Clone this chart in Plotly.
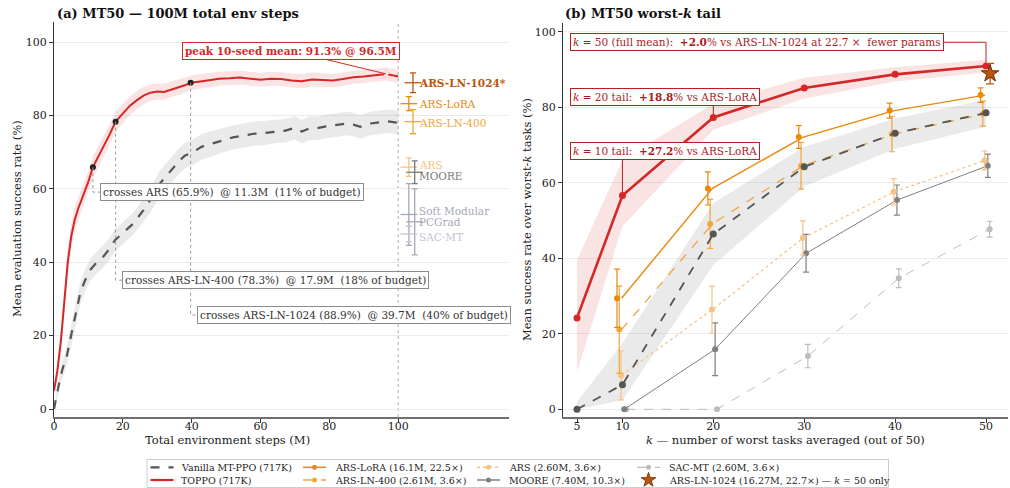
import plotly.graph_objects as go

FIG_W, FIG_H = 1010, 488
FONT = "DejaVu Serif"

# ---------------- (a) MT50 learning curves (x in M env steps, y in %) ----------------
toppo_steps = [0, 1, 2, 3, 4, 5, 6, 7, 8, 9, 10, 11.3, 12.5, 14, 16, 17.9,
               20, 22, 24, 26, 28, 30, 32, 34, 36, 38, 39.7, 42, 45, 48, 51, 54,
               57, 60, 63, 66, 69, 72, 75, 78, 81, 84, 87, 90, 93, 96.5, 100]
toppo_mean = [5.0, 10.5, 18.5, 29.0, 40.0, 47.0, 51.5, 54.5, 57.0, 59.5, 62.0, 65.9,
              68.0, 71.0, 74.5, 78.3, 80.6, 82.6, 84.1, 85.4, 86.2, 86.5, 86.4, 87.1,
              87.6, 88.2, 88.9, 89.2, 89.6, 90.0, 90.1, 90.3, 90.0, 89.7, 90.0, 89.9,
              89.5, 89.3, 89.8, 89.6, 89.5, 89.9, 90.4, 90.6, 90.9, 91.3, 90.6]
toppo_sd = [1.5, 2.5, 3.0, 3.5, 3.5, 3.5, 3.5, 3.2, 3.0, 3.0, 3.0, 3.0, 3.0, 3.0,
            2.9, 2.8, 2.7, 2.6, 2.5, 2.4, 2.3, 2.2, 2.2, 2.1, 2.1, 2.0, 2.0, 2.0,
            2.0, 1.9, 1.9, 1.9, 1.9, 1.9, 1.9, 1.9, 1.9, 1.9, 1.9, 1.8, 1.8, 1.8,
            1.8, 1.8, 1.8, 1.8, 1.8]

vanilla_steps = [0, 1, 1.7, 2.5, 3.7, 5.1, 6.5, 7.6, 9, 10.5, 12, 14.3, 16, 17.7,
                 19.5, 21.1, 23, 26, 28, 30.8, 33, 35, 36.6, 38, 40.5, 43, 46, 49,
                 52, 55, 58, 61, 64, 67, 70, 72, 74, 76.4, 79, 82, 85, 87, 89, 92,
                 94.8, 97, 100]
vanilla_mean = [0.0, 5.0, 8.0, 11.0, 14.3, 20.6, 27.0, 31.5, 35.0, 37.9, 39.5, 41.5,
                43.5, 46.0, 47.5, 48.8, 50.5, 54.2, 57.0, 61.5, 64.0, 66.0, 67.8, 69.0,
                70.1, 71.5, 72.3, 73.3, 74.0, 74.5, 75.0, 75.2, 75.6, 75.8, 76.6, 75.6,
                76.4, 76.5, 77.0, 77.3, 77.8, 77.5, 76.9, 77.8, 78.2, 78.4, 78.0]
vanilla_sd = [0.5, 1.5, 2.0, 2.5, 2.5, 3.0, 3.0, 3.0, 3.0, 3.0, 3.0, 3.0, 3.0, 3.0,
              3.0, 3.0, 3.0, 3.2, 3.4, 3.5, 3.5, 3.5, 3.5, 3.5, 3.5, 3.5, 3.5, 3.4,
              3.3, 3.3, 3.3, 3.3, 3.2, 3.2, 3.2, 3.2, 3.2, 3.2, 3.2, 3.2, 3.2, 3.2,
              3.2, 3.2, 3.2, 3.2, 3.2]

# where TOPPO first reaches each baseline's final score
cross_names = ["ARS", "ARS-LN-400", "ARS-LN-1024"]
cross_steps = [11.3, 17.9, 39.7]
cross_levels = [65.9, 78.3, 88.9]
budget_m = 100

# ---------------- (b) worst-k tail means ----------------
k_all = [5, 10, 20, 30, 40, 50]
toppo_tail = [24.2, 56.6, 77.3, 85.1, 88.7, 90.9]
toppo_tail_lo = [9.9, 48.5, 74.0, 82.3, 86.8, 89.2]
toppo_tail_hi = [39.5, 66.0, 81.0, 87.8, 90.6, 92.6]
vanilla_tail = [0.0, 6.5, 46.4, 64.2, 73.1, 78.5]
vanilla_tail_lo = [0.0, 2.4, 38.2, 59.0, 69.0, 74.8]
vanilla_tail_hi = [2.0, 17.5, 54.6, 69.5, 77.0, 82.0]

k_base = [10, 20, 30, 40, 50]
lora_tail = [29.4, 58.5, 72.1, 79.1, 83.2]
lora_err = [7.7, 4.4, 3.0, 2.0, 1.9]
ln400_tail = [21.1, 49.1, 64.5, 72.9, 78.3]
ln400_err = [11.5, 6.5, 6.2, 4.7, 3.3]
ars_tail = [9.0, 26.4, 45.4, 57.6, 65.9]
ars_err = [6.5, 6.2, 4.5, 3.5, 2.5]
moore_tail = [0.0, 15.9, 41.3, 55.4, 64.5]
moore_err = [0.0, 7.0, 5.0, 4.0, 3.1]
sac_tail = [0.0, 0.0, 14.1, 34.7, 47.7]
sac_err = [0.0, 0.0, 3.1, 2.5, 2.1]
ln1024_k50 = 88.9
ln1024_err = 2.7
softmod_k50, softmod_err = 53.0, 8.4
pcgrad_k50, pcgrad_err = 51.0, 9.0

# parameter counts (millions)
params = {"TOPPO": 0.717, "ARS-LoRA": 16.1, "ARS-LN-400": 2.61, "ARS": 2.60,
          "MOORE": 7.40, "SAC-MT": 2.60, "ARS-LN-1024": 16.27}

# ---------------- styles ----------------
C_TOPPO = "#d62728"
C_VAN = "#555555"
C_LORA = "#e8890c"
C_LN400 = "#f2a53c"
C_ARS = "#f7c283"
C_MOORE = "#808080"
C_SAC = "#bdbdbd"
C_LN1024 = "#b8560b"
C_SOFT = "#a5a9b5"
C_DARKRED = "#a81c1c"
TXT = "#222222"


def ratio(name):
    return params[name] / params["TOPPO"]


def px_x(p):
    return p / FIG_W


def px_y(p):
    return 1 - p / FIG_H


fig = go.Figure()
A = dict(xaxis="x", yaxis="y")
B = dict(xaxis="x2", yaxis="y2")
L = dict(xaxis="x3", yaxis="y3")
NOHOVER = dict(hoverinfo="skip", showlegend=False)


def band(xs, lo, hi, color, axes):
    fig.add_trace(go.Scatter(x=xs, y=lo, mode="lines", line=dict(width=0),
                             **axes, **NOHOVER))
    fig.add_trace(go.Scatter(x=xs, y=hi, mode="lines", line=dict(width=0),
                             fill="tonexty", fillcolor=color, **axes, **NOHOVER))


def paper_text(x, y, text, size=11.5, color=TXT, angle=0, xanchor="center"):
    fig.add_annotation(x=px_x(x), y=px_y(y), xref="paper", yref="paper",
                       xanchor=xanchor, yanchor="middle", textangle=angle,
                       showarrow=False, text=text,
                       font=dict(family=FONT, size=size, color=color))


# ---- panel (a) ----
band(vanilla_steps, [m - s for m, s in zip(vanilla_mean, vanilla_sd)],
     [m + s for m, s in zip(vanilla_mean, vanilla_sd)], "rgba(160,160,160,0.22)", A)
band(toppo_steps, [m - s for m, s in zip(toppo_mean, toppo_sd)],
     [m + s for m, s in zip(toppo_mean, toppo_sd)], "rgba(214,39,40,0.13)", A)
fig.add_trace(go.Scatter(x=vanilla_steps, y=vanilla_mean, mode="lines",
                         line=dict(color=C_VAN, width=2.2, dash="dash"), **A, **NOHOVER))
fig.add_trace(go.Scatter(x=toppo_steps, y=toppo_mean, mode="lines",
                         line=dict(color=C_TOPPO, width=2), **A, **NOHOVER))
fig.add_trace(go.Scatter(x=cross_steps, y=cross_levels, mode="markers",
                         marker=dict(color="#222222", size=6), **A, **NOHOVER))

peak_i = max(range(len(toppo_mean)), key=lambda i: toppo_mean[i])
peak_x, peak_y = toppo_steps[peak_i], toppo_mean[peak_i]
fig.add_trace(go.Scatter(x=[peak_x], y=[peak_y], mode="markers",
                         marker=dict(symbol="star", color="white", size=6,
                                     line=dict(color="#f4b6b6", width=0.5)),
                         **A, **NOHOVER))

# final scores of the baselines at the right edge of (a)
final_items = [
    ("ARS-LN-1024*", ln1024_k50, ln1024_err, C_LN1024, 104.3, 0.0, True),
    ("ARS-LoRA", lora_tail[-1], lora_err[-1], C_LORA, 103.1, 0.0, False),
    ("ARS-LN-400", ln400_tail[-1], ln400_err[-1], C_LN400, 104.3, -0.4, False),
    ("ARS", ars_tail[-1], ars_err[-1], C_ARS, 103.1, 0.6, False),
    ("MOORE", moore_tail[-1], moore_err[-1], "#7a7a7a", 104.8, -1.0, False),
    ("Soft Modular", softmod_k50, softmod_err, C_SOFT, 103.1, 1.0, False),
    ("PCGrad", pcgrad_k50, pcgrad_err, C_SOFT, 104.8, 0.0, False),
    ("SAC-MT", sac_tail[-1], sac_err[-1], "#c4c6cf", 103.1, -0.8, False),
]
for name, val, err, col, xpos, nudge, bold in final_items:
    fig.add_trace(go.Scatter(
        x=[xpos], y=[val], mode="markers",
        marker=dict(symbol="line-ew", size=12, line=dict(color=col, width=1.3)),
        error_y=dict(type="data", array=[err], color=col, thickness=1.3, width=3),
        **A, **NOHOVER))
    fig.add_annotation(x=105.6, y=val + nudge, xref="x", yref="y", xanchor="left",
                       yanchor="middle", showarrow=False,
                       text=f"<b>{name}</b>" if bold else name,
                       font=dict(family=FONT, size=10.5, color=col))

# ---- panel (b) ----
band(k_all, vanilla_tail_lo, vanilla_tail_hi, "rgba(160,160,160,0.22)", B)
band(k_all, toppo_tail_lo, toppo_tail_hi, "rgba(214,39,40,0.13)", B)

# (name, values, errors, colour, dash, width, line dx, marker dx)
tail_series = [
    ("SAC-MT", sac_tail, sac_err, C_SAC, "dash", 1.0, 0.4, 0.4),
    ("MOORE", moore_tail, moore_err, C_MOORE, "solid", 1.0, 0.2, 0.2),
    ("ARS", ars_tail, ars_err, C_ARS, "dot", 1.2, -0.1, -0.15),
    ("ARS-LN-400", ln400_tail, ln400_err, C_LN400, "dash", 1.3, -0.1, -0.35),
    ("ARS-LoRA", lora_tail, lora_err, C_LORA, "solid", 1.4, -0.1, -0.6),
]
for name, vals, errs, col, dash, w, ldx, mdx in tail_series:
    fig.add_trace(go.Scatter(x=[k + ldx for k in k_base], y=vals, mode="lines",
                             line=dict(color=col, width=w, dash=dash), **B, **NOHOVER))
    fig.add_trace(go.Scatter(
        x=[k + mdx for k in k_base], y=vals, mode="markers",
        marker=dict(color=col, size=6),
        error_y=dict(type="data", array=errs, color=col, thickness=1.2, width=3),
        **B, **NOHOVER))

fig.add_trace(go.Scatter(x=k_all, y=vanilla_tail, mode="lines+markers",
                         line=dict(color=C_VAN, width=1.8, dash="dash"),
                         marker=dict(color=C_VAN, size=7), **B, **NOHOVER))
fig.add_trace(go.Scatter(x=k_all, y=toppo_tail, mode="lines+markers",
                         line=dict(color=C_TOPPO, width=2.6),
                         marker=dict(color=C_TOPPO, size=7), **B, **NOHOVER))
fig.add_trace(go.Scatter(
    x=[50.45], y=[ln1024_k50], mode="markers",
    marker=dict(symbol="star", color=C_LN1024, size=13, line=dict(color="#6b2a00", width=1)),
    error_y=dict(type="data", array=[ln1024_err], color=C_LN1024, thickness=1.3, width=4),
    **B, **NOHOVER))

# ---- axes ----
tick_font = dict(family=FONT, size=11, color=TXT)
common = dict(ticks="outside", ticklen=4, tickwidth=1, tickcolor="#333333",
              tickfont=tick_font, zeroline=False, automargin=False, fixedrange=True)
fig.update_layout(
    xaxis=dict(domain=[px_x(54), px_x(509)], range=[0, 132.2], anchor="y",
               tickvals=[0, 20, 40, 60, 80, 100], showgrid=False, showline=True,
               linecolor="#707070", linewidth=1.8, ticklabelstandoff=-6, **common),
    yaxis=dict(domain=[px_y(417), px_y(22)], range=[-2.18, 105.45], anchor="x",
               tickvals=[0, 20, 40, 60, 80, 100], showgrid=True, gridcolor="#ebebeb",
               gridwidth=1, showline=True, linecolor="#333333", linewidth=1.3, **common),
    xaxis2=dict(domain=[px_x(563), px_x(1008)], range=[3.46, 52.42], anchor="y2",
                tickvals=[5, 10, 20, 30, 40, 50], showgrid=False, showline=True,
                linecolor="#707070", linewidth=1.8, ticklabelstandoff=-6, **common),
    yaxis2=dict(domain=[px_y(417), px_y(23)], range=[-2.04, 102.3], anchor="x2",
                tickvals=[0, 20, 40, 60, 80, 100], showgrid=True, gridcolor="#ebebeb",
                gridwidth=1, showline=True, linecolor="#333333", linewidth=1.3, **common),
    xaxis3=dict(domain=[0, 1], range=[0, FIG_W], anchor="y3", visible=False,
                fixedrange=True, automargin=False),
    yaxis3=dict(domain=[0, 31 / FIG_H], range=[FIG_H, FIG_H - 31], anchor="x3",
                visible=False, fixedrange=True, automargin=False),
)

# ---- shapes: budget line, connectors ----
fig.add_shape(type="line", xref="x", yref="paper", x0=budget_m, x1=budget_m,
              y0=px_y(417), y1=px_y(22), line=dict(color="#b0b0b0", width=1, dash="dot"),
              layer="below")

cross_boxes = [(13.4, 59.1), (19.75, 35.1), (41.5, 25.6)]
for (bx, by), name, step, lvl in zip(cross_boxes, cross_names, cross_steps, cross_levels):
    fig.add_shape(type="path", xref="x", yref="y",
                  path=f"M {step},{lvl} L {step},{by} L {bx + 2},{by}",
                  line=dict(color="#9a9a9a", width=1, dash="dot"))
    fig.add_annotation(
        x=bx, y=by, xref="x", yref="y", xanchor="left", yanchor="middle",
        showarrow=False,
        text=(f"crosses {name} ({lvl:.1f}%)\u00a0 @ {step:.1f}M\u00a0 "
              f"({step / budget_m * 100:.0f}% of budget)"),
        font=dict(family=FONT, size=10.5, color="#333333"),
        bgcolor="white", bordercolor="#8c8c8c", borderwidth=1, borderpad=2)

fig.add_annotation(
    x=peak_x, y=peak_y, xref="x", yref="y", ax=69, ay=97.5, axref="x", ayref="y",
    showarrow=True, arrowhead=0, arrowwidth=1, arrowcolor=C_TOPPO,
    text=f"<b>peak 10-seed mean: {peak_y:.1f}% @ {peak_x:.1f}M</b>",
    font=dict(family=FONT, size=10.5, color=C_TOPPO),
    bgcolor="white", bordercolor=C_TOPPO, borderwidth=1, borderpad=2)

gain50 = toppo_tail[-1] - ln1024_k50
gain20 = toppo_tail[2] - lora_tail[1]
gain10 = toppo_tail[1] - lora_tail[0]
tail_notes = [
    (97.2, f"<i>k</i> = 50 (full mean):\u00a0 <b>+{gain50:.1f}</b>% vs ARS-LN-1024 at "
           f"{ratio('ARS-LN-1024'):.1f} ×\u00a0 fewer params",
     f"M 40,97.2 L 50,97.2 L 50,{toppo_tail[-1] + 0.9}"),
    (82.6, f"<i>k</i> = 20 tail:\u00a0 <b>+{gain20:.1f}</b>% vs ARS-LoRA",
     f"M 20,82.6 L 20,{toppo_tail[2] + 0.9}"),
    (68.4, f"<i>k</i> = 10 tail:\u00a0 <b>+{gain10:.1f}</b>% vs ARS-LoRA",
     f"M 10,68.4 L 10,{toppo_tail[1] + 0.9}"),
]
for ty, text, path in tail_notes:
    fig.add_shape(type="path", xref="x2", yref="y2", path=path,
                  line=dict(color="#b22222", width=1))
    fig.add_annotation(x=4.23, y=ty, xref="x2", yref="y2", xanchor="left",
                       yanchor="middle", showarrow=False, text=text,
                       font=dict(family=FONT, size=10.5, color=C_DARKRED),
                       bgcolor="white", bordercolor="#b22222", borderwidth=1, borderpad=2)

# ---- titles and axis labels ----
paper_text(55, 14, "<b>(a) MT50 — 100M total env steps</b>", size=13,
           color="#111111", xanchor="left")
paper_text(563, 14, "<b>(b) MT50 worst-<i>k</i> tail</b>", size=13,
           color="#111111", xanchor="left")
paper_text(17, 219, "Mean evaluation success rate (%)", angle=-90)
paper_text(527, 220, "Mean success rate over worst-<i>k</i> tasks (%)", angle=-90)
paper_text(227, 440, "Total environment steps (M)")
paper_text(785, 440, "<i>k</i> — number of worst tasks averaged (out of 50)")

# ---- legend (drawn on a helper axis in pixel units) ----
fig.add_shape(type="rect", xref="paper", yref="paper", x0=px_x(147), x1=px_x(888.5),
              y0=px_y(487.5), y1=px_y(459.5), line=dict(color="#cccccc", width=1),
              fillcolor="white", layer="below")

legend_cols = [150.5, 303, 477, 637]
legend_text_x = [179, 332.5, 506.5, 666.5]
legend_rows = [467.3, 480]
legend_items = [
    # (col, row, label, colour, dash, width, marker)
    (0, 0, f"Vanilla MT-PPO ({params['TOPPO'] * 1000:.0f}K)", C_VAN, "dash", 2.2, None),
    (0, 1, f"TOPPO ({params['TOPPO'] * 1000:.0f}K)", C_TOPPO, "solid", 2.2, None),
    (1, 0, f"ARS-LoRA ({params['ARS-LoRA']:.1f}M, {ratio('ARS-LoRA'):.1f}×)",
     C_LORA, "solid", 1.5, "circle"),
    (1, 1, f"ARS-LN-400 ({params['ARS-LN-400']:.2f}M, {ratio('ARS-LN-400'):.1f}×)",
     C_LN400, "dash", 1.5, "circle"),
    (2, 0, f"ARS ({params['ARS']:.2f}M, {ratio('ARS'):.1f}×)", C_ARS, "dot", 1.5, "circle"),
    (2, 1, f"MOORE ({params['MOORE']:.2f}M, {ratio('MOORE'):.1f}×)",
     C_MOORE, "solid", 1.5, "circle"),
    (3, 0, f"SAC-MT ({params['SAC-MT']:.2f}M, {ratio('SAC-MT'):.1f}×)",
     C_SAC, "dash", 1.2, "circle"),
    (3, 1, f"ARS-LN-1024 ({params['ARS-LN-1024']:.2f}M, {ratio('ARS-LN-1024'):.1f}×) — "
           f"<i>k</i> = 50 only", C_LN1024, None, 0, "star"),
]
for col, row, label, color, dash, w, marker in legend_items:
    x0 = legend_cols[col]
    yy = legend_rows[row]
    if dash is not None:
        fig.add_trace(go.Scatter(x=[x0, x0 + 23], y=[yy, yy], mode="lines",
                                 line=dict(color=color, width=w, dash=dash), **L, **NOHOVER))
    if marker == "circle":
        fig.add_trace(go.Scatter(x=[x0 + 11.5], y=[yy], mode="markers",
                                 marker=dict(color=color, size=5), **L, **NOHOVER))
    elif marker == "star":
        fig.add_trace(go.Scatter(x=[x0 + 11.5], y=[yy], mode="markers",
                                 marker=dict(symbol="star", color=color, size=11,
                                             line=dict(color="#6b2a00", width=0.8)),
                                 **L, **NOHOVER))
    paper_text(legend_text_x[col], yy, label, size=9.5, xanchor="left")

fig.update_layout(width=FIG_W, height=FIG_H, margin=dict(l=0, r=0, t=0, b=0),
                  paper_bgcolor="white", plot_bgcolor="white", showlegend=False,
                  font=dict(family=FONT, color=TXT))

fig.write_html("out.html")
